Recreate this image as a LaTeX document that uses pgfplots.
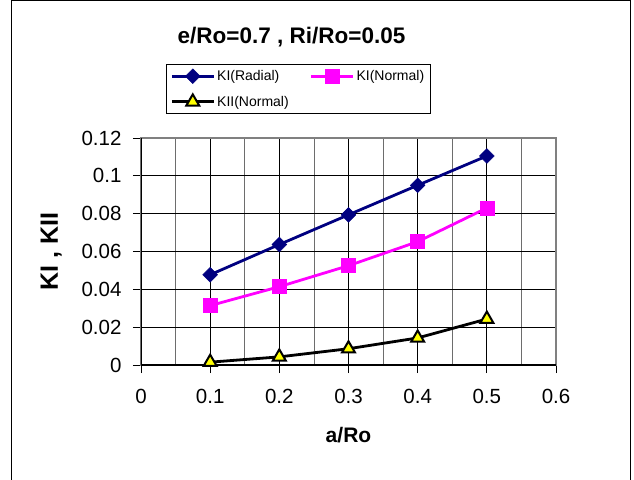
\documentclass[border=0pt]{standalone}
\usepackage{fontspec}
\setmainfont{Liberation Sans}
\usepackage{pgfplots}
\pgfplotsset{compat=1.18}
\definecolor{navyc}{RGB}{0,0,128}
\definecolor{magc}{RGB}{255,0,255}
\definecolor{yelc}{RGB}{255,255,0}
\definecolor{gridgray}{RGB}{128,128,128}
\begin{document}
\begin{tikzpicture}
\useasboundingbox (-141pt,-114pt) rectangle (493pt,365pt);
\draw[black,line width=1pt] (-129pt,-116pt) -- (-129pt,364pt) -- (489pt,364pt) -- (489pt,-116pt);
\node[font=\fontsize{22.5}{25}\selectfont\bfseries] at (150.5pt,328pt) {e/Ro=0.7 , Ri/Ro=0.05};
\begin{axis}[
  at={(0pt,0pt)}, anchor=south west,
  scale only axis, width=415pt, height=227pt,
  xmin=0, xmax=0.6, ymin=0, ymax=0.12,
  xtick={0,0.1,...,0.6}, ytick={0,0.02,...,0.12},
  minor xtick={0.05,0.15,...,0.55},
  xticklabels={0,0.1,0.2,0.3,0.4,0.5,0.6},
  yticklabels={0,0.02,0.04,0.06,0.08,0.1,0.12},
  xtick pos=bottom, ytick pos=left,
  grid=both,
  major grid style={black, line width=0.8pt},
  minor grid style={gridgray!85!black, line width=0.8pt},
  tick align=outside, major tick length=8pt, minor tick length=0pt,
  tick style={black, line width=0.8pt},
  axis line style={gridgray, line width=1.5pt},
  ticklabel style={font=\fontsize{20.5}{23}\selectfont},
  xticklabel style={yshift=-13pt},
  yticklabel style={xshift=-8pt},
  xlabel={a/Ro}, ylabel={KI , KII},
  xlabel style={font=\fontsize{21}{24}\selectfont\bfseries, yshift=-16pt},
  ylabel style={font=\fontsize{25}{28}\selectfont\bfseries, yshift=13pt},
  legend columns=2,
  legend style={at={(0.0602,1.326)}, anchor=north west, draw=black, line width=0.8pt,
    font=\fontsize{14}{17}\selectfont, row sep=10pt, inner sep=4pt,
    /tikz/every even column/.append style={column sep=19pt}},
  legend cell align=left,
  legend image code/.code={
    \draw[mark repeat=2,mark phase=2,#1] plot coordinates {(0pt,0pt) (21pt,0pt) (42pt,0pt)};},
]
\addplot[navyc, line width=2.8pt, mark=square*, mark size=5.2pt, mark options={rotate=45, fill=navyc, draw=navyc, line width=0.5pt}]
  coordinates {(0.1,0.0477) (0.2,0.0637) (0.3,0.0794) (0.4,0.0950) (0.5,0.1105)};
\addlegendentry{KI(Radial)}
\addplot[magc, line width=2.8pt, mark=square*, mark size=7pt, mark options={fill=magc, draw=magc, line width=0.5pt}]
  coordinates {(0.1,0.0314) (0.2,0.0414) (0.3,0.0525) (0.4,0.0652) (0.5,0.0830)};
\addlegendentry{KI(Normal)}
\addplot[black, line width=2.8pt, mark=triangle*, mark size=7.5pt, mark options={fill=yelc, draw=black, line width=2pt}]
  coordinates {(0.1,0.0015) (0.2,0.0043) (0.3,0.0086) (0.4,0.0143) (0.5,0.0243)};
\addlegendentry{KII(Normal)}
\draw[black, line width=1.2pt] (axis cs:0,0) -- (axis cs:0.6,0);
\draw[black, line width=1.2pt] (axis cs:0,0) -- (axis cs:0,0.12);
\end{axis}
\end{tikzpicture}
\end{document}
